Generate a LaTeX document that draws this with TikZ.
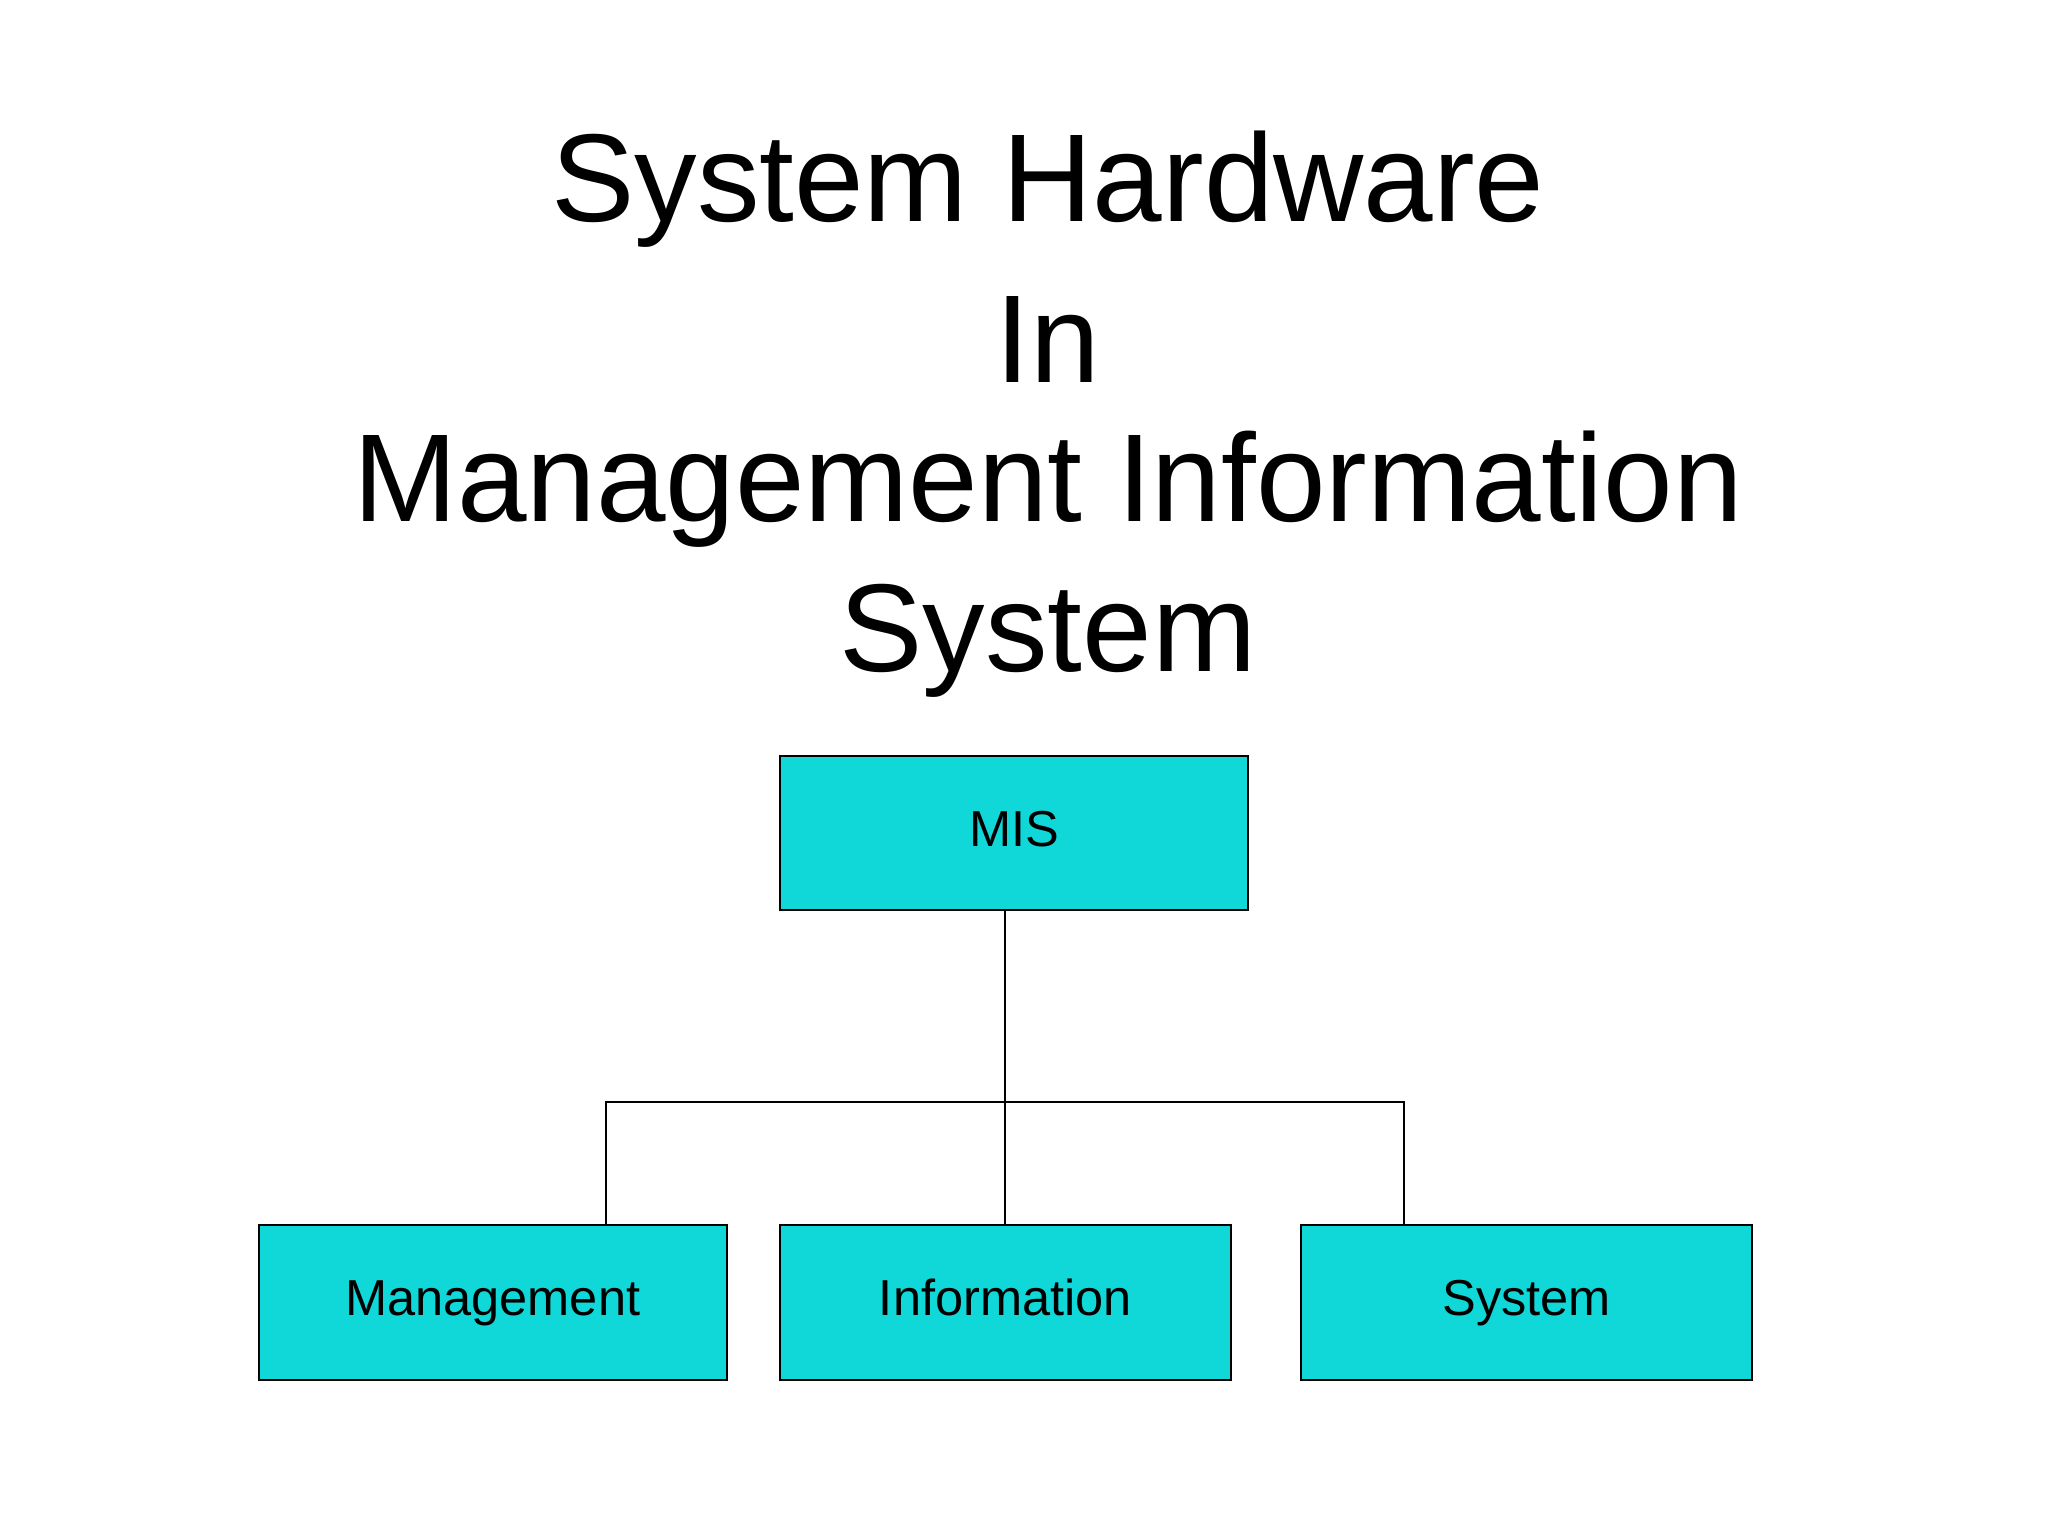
\documentclass[tikz,border=0pt]{standalone}
\usepackage{fontspec}
\setmainfont{Liberation Sans}
\definecolor{boxc}{HTML}{10D8D8}
\begin{document}
\begin{tikzpicture}[x=1pt,y=-1pt,
  box/.style={draw=black,line width=1.5pt,fill=boxc,minimum width=#1,minimum height=116pt,inner sep=0pt,text height=28pt,text depth=8pt,font=\fontsize{38}{44}\selectfont},
  ttl/.style={font=\fontsize{94}{110}\selectfont,inner sep=0pt}]
\useasboundingbox (0,0) rectangle (1540,1155);
\fill[white] (0,0) rectangle (1540,1155);
\node[ttl] (t1) at (788,142) {System Hardware};
\node[ttl] (t2) at (788,255) {In};
\node[ttl] (t3) at (788,368) {Management Information};
\node[ttl] (t4) at (788,482) {System};
\node[box=352pt] (mis) at (762.5,626.5) {MIS};
\node[box=352pt] (man) at (370.5,979.5) {Management};
\node[box=339pt] (inf) at (756,979.5) {Information};
\node[box=339pt] (sys) at (1148,979.5) {System};
\coordinate (j) at (756,829);
\draw[line width=1.5pt] (mis.south -| j) -- (inf.north -| j);
\draw[line width=1.5pt] (man.north -| 456,0) |- (j) -| (sys.north -| 1056,0);
\end{tikzpicture}
\end{document}
